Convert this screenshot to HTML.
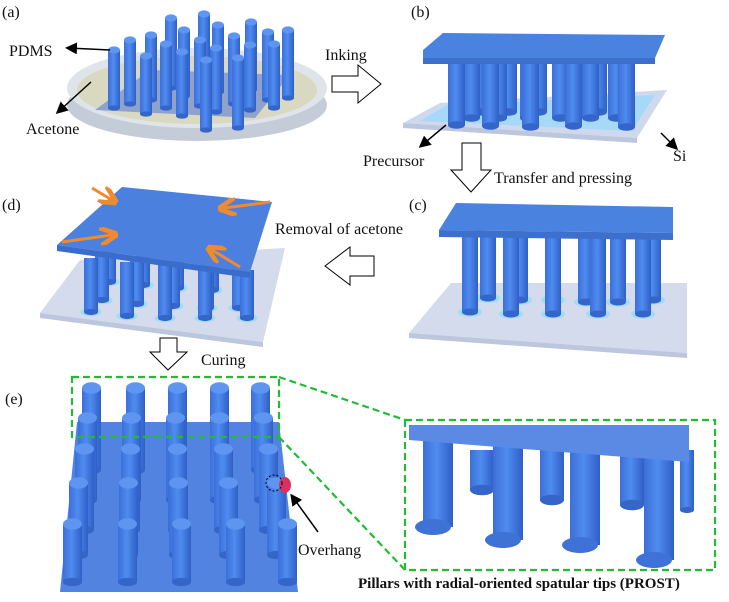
<!DOCTYPE html>
<html><head><meta charset="utf-8"><style>
html,body{margin:0;padding:0;background:#fff;width:729px;height:602px;overflow:hidden}
svg{display:block}
text{font-family:"Liberation Serif",serif;fill:#111}
</style></head><body>
<svg id="s" width="729" height="602" viewBox="0 0 729 602" xmlns="http://www.w3.org/2000/svg">
<defs>
<linearGradient id="pg" x1="0" x2="1" y1="0" y2="0">
<stop offset="0" stop-color="#3c6fd8"/><stop offset="0.45" stop-color="#4f8cf0"/><stop offset="1" stop-color="#2f5fc6"/></linearGradient>
<marker id="ah" markerWidth="8" markerHeight="8" refX="6" refY="4" orient="auto"><path d="M0,0 L8,4 L0,8 Z" fill="#000"/></marker>
<marker id="oh" markerWidth="6" markerHeight="6" refX="4" refY="3" orient="auto"><path d="M0,0 L6,3 L0,6" fill="none" stroke="#f08a30" stroke-width="1.6"/></marker>
</defs>

<!-- (a) dish -->
<ellipse cx="197" cy="105" rx="130" ry="36" fill="#c4ccd8"/>
<ellipse cx="197" cy="88" rx="130" ry="40" fill="#dfe4ea"/>
<ellipse cx="197" cy="90" rx="120" ry="34" fill="#d8d9c0"/>
<polygon points="95,110 150,70 290,75 255,118" fill="#8fa2cc"/>
<g id="pa"></g>

<!-- (b) -->
<polygon points="403,123 440,103 667,90 637,138" fill="#cfd9ee"/>
<polygon points="403,123 637,138 637,143 403,128" fill="#bcc6dc"/>
<polygon points="420,121 447,105 655,95 632,131" fill="#a6d8f8"/>
<g id="pb"></g>
<polygon points="423,50 443,33 665,35 655,58 423,58" fill="#4a82df"/>
<polygon points="423,58 655,58 655,64 423,64" fill="#3d70cc"/>

<!-- (c) -->
<polygon points="409,333 451,283 687,283 687,353" fill="#d3dbec"/>
<polygon points="409,333 687,353 687,358 409,338" fill="#bcc6dc"/>
<g id="pc"></g>
<polygon points="439,230 456,203 673,207 673,233" fill="#4a82df"/>
<polygon points="439,230 673,233 673,240 439,237" fill="#3d70cc"/>

<!-- (d) -->
<polygon points="40,313 80,260 285,248 263,342" fill="#d3dbec"/>
<polygon points="40,313 263,342 263,347 40,318" fill="#bcc6dc"/>
<g id="pd"></g>
<polygon points="57,245 122,187 272,202 250,272" fill="#4b80de"/>
<polygon points="57,245 250,272 250,278 57,251" fill="#3a6ccc"/>
<g stroke="#f08a30" stroke-width="3" marker-end="url(#oh)">
<line x1="92" y1="188" x2="112" y2="200"/>
<line x1="270" y1="202" x2="224" y2="208"/>
<line x1="62" y1="242" x2="112" y2="235"/>
<line x1="240" y1="267" x2="212" y2="250"/>
</g>

<!-- (e) -->
<polygon points="77,422 279,422 298,592 60,592" fill="#5283e0"/>
<g id="pe"></g>
<rect x="72" y="377" width="207" height="60" fill="none" stroke="#22bb33" stroke-width="2.2" stroke-dasharray="7,4"/>
<line x1="279" y1="377" x2="405" y2="420" stroke="#22bb33" stroke-width="2.2" stroke-dasharray="7,4"/>
<line x1="279" y1="437" x2="405" y2="570" stroke="#22bb33" stroke-width="2.2" stroke-dasharray="7,4"/>
<g id="pz"></g>
<polygon points="409,425 689,425 689,462 409,440" fill="#5a8ae3"/>
<rect x="405" y="420" width="310" height="150" fill="none" stroke="#22bb33" stroke-width="2.2" stroke-dasharray="7,4"/>
<ellipse cx="285" cy="485" rx="6" ry="8" fill="#d83060"/>
<ellipse cx="274" cy="483" rx="8" ry="8" fill="none" stroke="#000" stroke-width="1" stroke-dasharray="2,2"/>
<line x1="318" y1="532" x2="292" y2="496" stroke="#000" stroke-width="1.5" marker-end="url(#ah)"/>

<!-- labels & arrows -->
<text x="2" y="17" font-size="16">(a)</text>
<text x="411" y="17" font-size="16">(b)</text>
<text x="2" y="210" font-size="16">(d)</text>
<text x="409" y="210" font-size="16">(c)</text>
<text x="5" y="404" font-size="16">(e)</text>
<text x="9" y="56" font-size="16">PDMS</text>
<line x1="110" y1="50" x2="68" y2="48" stroke="#000" stroke-width="1.5" marker-end="url(#ah)"/>
<text x="26" y="134" font-size="16">Acetone</text>
<line x1="91" y1="82" x2="58" y2="112" stroke="#000" stroke-width="1.5" marker-end="url(#ah)"/>
<text x="325" y="60" font-size="16">Inking</text>
<polygon points="332,76 358,76 358,65 381,84 358,103 358,92 332,92" fill="#fff" stroke="#000" stroke-width="1"/>
<text x="363" y="166" font-size="16">Precursor</text>
<line x1="446" y1="125" x2="421" y2="146" stroke="#000" stroke-width="1.5" marker-end="url(#ah)"/>
<text x="673" y="161" font-size="16">Si</text>
<line x1="661" y1="133" x2="676" y2="148" stroke="#000" stroke-width="1.5" marker-end="url(#ah)"/>
<polygon points="462,143 481,143 481,170 491,170 471,192 451,170 462,170" fill="#fff" stroke="#000" stroke-width="1"/>
<text x="494" y="183" font-size="16">Transfer and pressing</text>
<text x="275" y="234" font-size="16">Removal of acetone</text>
<polygon points="374,256 350,256 350,247 325,266 350,285 350,276 374,276" fill="#fff" stroke="#000" stroke-width="1"/>
<polygon points="160,338 177,338 177,352 187,352 168,370 150,352 160,352" fill="#fff" stroke="#000" stroke-width="1"/>
<text x="201" y="365" font-size="16">Curing</text>
<text x="298" y="555" font-size="16">Overhang</text>
<text x="358" y="588" font-size="15" font-weight="bold">Pillars with radial-oriented spatular tips (PROST)</text>
</svg>
<script>
var NS="http://www.w3.org/2000/svg";
function el(g,t,a){var e=document.createElementNS(NS,t);for(var k in a)e.setAttribute(k,a[k]);g.appendChild(e);return e;}
function pil(id,x,top,bot,w,cap,foot){var g=document.getElementById(id);
 if(foot)el(g,"ellipse",{cx:x+w/2,cy:bot,rx:w*0.75,ry:w*0.3,fill:foot});
 el(g,"rect",{x:x,y:top,width:w,height:bot-top,fill:"url(#pg)"});
 el(g,"ellipse",{cx:x+w/2,cy:bot,rx:w/2,ry:w*0.22,fill:"#3565c8"});
 if(cap)el(g,"ellipse",{cx:x+w/2,cy:top,rx:w/2,ry:w*0.3,fill:"#5d95f0"});}
// (a)
var ax=[[165,18,88],[198,14,86],[145,35,100],[178,30,96],[212,25,92],[245,22,90],[124,40,104],[160,44,108],[194,40,106],[228,36,104],[262,32,100],[282,30,98],[108,50,108],[140,56,114],[176,52,116],[210,48,112],[244,45,110],[268,44,108],[200,60,130],[232,58,128]];
ax.forEach(function(p){pil("pa",p[0],p[1],p[2],12,1);});
// (b)
[[470,60,112],[500,60,112],[530,60,112],[560,60,112],[590,60,112],[615,60,112],[463,60,118],[490,60,118],[520,60,118],[552,60,118],[582,60,118],[608,60,118],[448,60,125],[482,60,126],[522,60,127],[565,60,126],[618,60,127]].forEach(function(p){pil("pb",p[0],p[1],p[2],17,0);});
// (c)
[[480,235,298,"#9fdcf8"],[512,235,300,"#9fdcf8"],[545,235,300,"#9fdcf8"],[578,235,302,"#9fdcf8"],[610,235,302,"#9fdcf8"],[645,235,300,"#9fdcf8"],[462,235,312,"#9fdcf8"],[503,235,314,"#9fdcf8"],[545,235,314,"#9fdcf8"],[590,235,314,"#9fdcf8"],[635,235,314,"#9fdcf8"]].forEach(function(p){pil("pc",p[0],p[1],p[2],16,0,p[3]);});
// (d)
[[102,250,282],[136,255,285],[170,258,288],[205,260,290],[236,262,292],[95,255,300],[130,258,304],[166,262,306],[200,264,308],[232,266,308],[84,258,312],[120,262,316],[158,264,318],[198,266,318],[240,270,318]].forEach(function(p){pil("pd",p[0],p[1],p[2],14,0,"#9fdcf8");});
// (e)
var rows=[[388,[82,126,168,210,251],470],[418,[78,122,166,210,254],500],[449,[75,121,168,214,259],530],[483,[69,119,169,219,267],555],[524,[63,118,172,226,278],582]];
rows.forEach(function(r){r[1].forEach(function(x){pil("pe",x,r[0],r[2],19,1);});});
// zoom box pillars
[[470,450,490,24],[540,450,500,24],[620,450,505,24],[680,450,510,14]].forEach(function(p){pil("pz",p[0],p[1],p[2],p[3],0);});
[[423,527],[493,540],[570,545],[644,560]].forEach(function(p){var g=document.getElementById("pz");
 el(g,"rect",{x:p[0],y:440,width:30,height:p[1]-440,fill:"url(#pg)"});
 el(g,"ellipse",{cx:p[0]+10,cy:p[1],rx:18,ry:8,fill:"#3f72d6"});});
</script>
</body></html>
